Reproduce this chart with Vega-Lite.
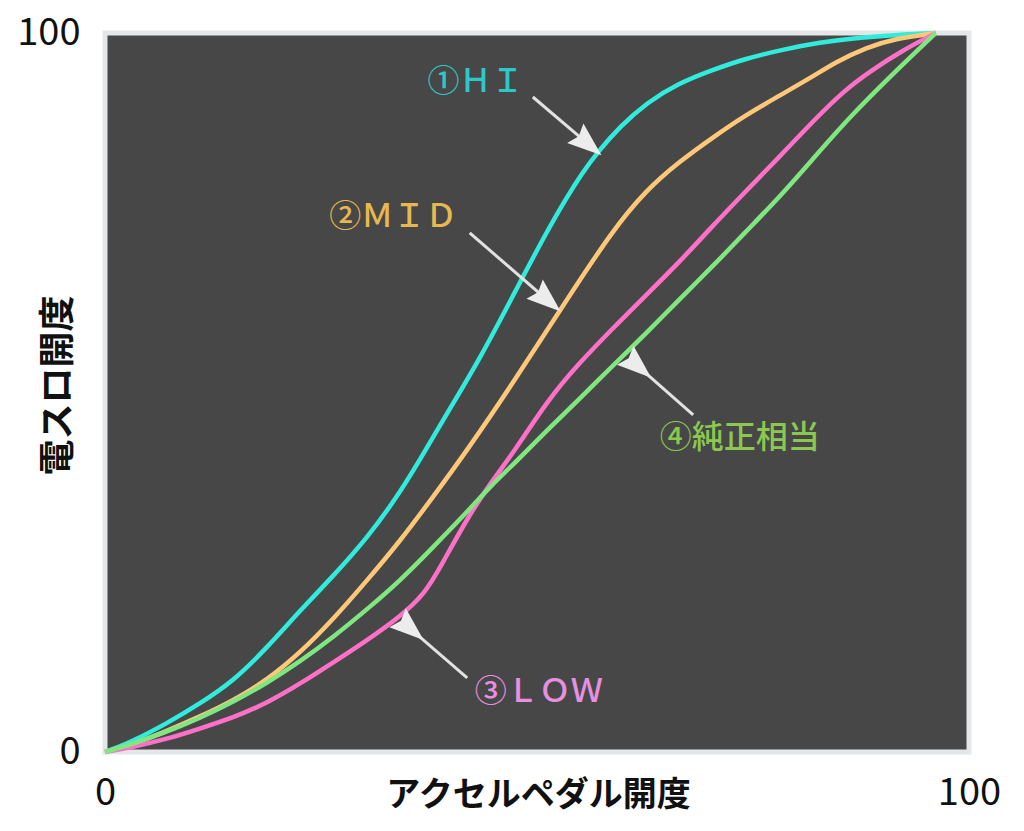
{
  "$schema": "https://vega.github.io/schema/vega-lite/v6.json",
  "autosize": "none",
  "width": 864,
  "height": 719,
  "padding": {"left": 105, "top": 33, "right": 55, "bottom": 79},
  "background": "white",
  "config": {
    "view": {"fill": "#474747", "stroke": "#e4e7ea", "strokeWidth": 5},
    "font": "Noto Sans CJK JP"
  },
  "datasets": {
    "curves": [
      {"series": "HI", "x": 0, "y": 0}, {"series": "HI", "x": 3, "y": 1.3}, {"series": "HI", "x": 7.5, "y": 4}, {"series": "HI", "x": 11.5, "y": 6.8},
      {"series": "HI", "x": 15.4, "y": 9.8}, {"series": "HI", "x": 19.5, "y": 14.5}, {"series": "HI", "x": 23.5, "y": 19.7}, {"series": "HI", "x": 27.5, "y": 24.5},
      {"series": "HI", "x": 31.5, "y": 29.7}, {"series": "HI", "x": 35, "y": 35.2}, {"series": "HI", "x": 37.9, "y": 40.6}, {"series": "HI", "x": 41, "y": 46.8},
      {"series": "HI", "x": 45.1, "y": 54.6}, {"series": "HI", "x": 49.9, "y": 65.2}, {"series": "HI", "x": 53, "y": 72}, {"series": "HI", "x": 55.6, "y": 77.2},
      {"series": "HI", "x": 57.5, "y": 80.6}, {"series": "HI", "x": 59.2, "y": 83.3}, {"series": "HI", "x": 62, "y": 87}, {"series": "HI", "x": 65.2, "y": 90.3},
      {"series": "HI", "x": 69, "y": 93}, {"series": "HI", "x": 73.2, "y": 94.9}, {"series": "HI", "x": 77, "y": 96.4}, {"series": "HI", "x": 81.2, "y": 97.6},
      {"series": "HI", "x": 86, "y": 98.7}, {"series": "HI", "x": 91, "y": 99.4}, {"series": "HI", "x": 96, "y": 99.8}, {"series": "HI", "x": 100, "y": 100},
      {"series": "MID", "x": 0, "y": 0}, {"series": "MID", "x": 3, "y": 0.9}, {"series": "MID", "x": 7, "y": 2.7}, {"series": "MID", "x": 11.4, "y": 4.9},
      {"series": "MID", "x": 15.5, "y": 7.2}, {"series": "MID", "x": 19.5, "y": 10}, {"series": "MID", "x": 23.5, "y": 13.8}, {"series": "MID", "x": 27.5, "y": 18.5},
      {"series": "MID", "x": 31.5, "y": 23.8}, {"series": "MID", "x": 35.5, "y": 29.3}, {"series": "MID", "x": 39.5, "y": 35.5}, {"series": "MID", "x": 43.5, "y": 41.8},
      {"series": "MID", "x": 49.1, "y": 51.3}, {"series": "MID", "x": 54.8, "y": 61.5}, {"series": "MID", "x": 61.1, "y": 72.6}, {"series": "MID", "x": 65.2, "y": 78.2},
      {"series": "MID", "x": 69, "y": 82}, {"series": "MID", "x": 73.2, "y": 85.5}, {"series": "MID", "x": 77, "y": 88.5}, {"series": "MID", "x": 81.2, "y": 91.3},
      {"series": "MID", "x": 85, "y": 93.8}, {"series": "MID", "x": 88, "y": 96}, {"series": "MID", "x": 91.7, "y": 98}, {"series": "MID", "x": 95, "y": 99.2},
      {"series": "MID", "x": 100, "y": 100},
      {"series": "LOW", "x": 0, "y": 0}, {"series": "LOW", "x": 3, "y": 0.6}, {"series": "LOW", "x": 7.5, "y": 1.8}, {"series": "LOW", "x": 11.5, "y": 3.3},
      {"series": "LOW", "x": 15.5, "y": 4.8}, {"series": "LOW", "x": 19.5, "y": 6.8}, {"series": "LOW", "x": 23.5, "y": 9.5}, {"series": "LOW", "x": 27.4, "y": 12.4},
      {"series": "LOW", "x": 31.5, "y": 15.5}, {"series": "LOW", "x": 35.5, "y": 18.8}, {"series": "LOW", "x": 38.5, "y": 22}, {"series": "LOW", "x": 40.5, "y": 26},
      {"series": "LOW", "x": 43.6, "y": 32.5}, {"series": "LOW", "x": 46.5, "y": 37.6}, {"series": "LOW", "x": 49.1, "y": 41.5}, {"series": "LOW", "x": 53.2, "y": 48.8},
      {"series": "LOW", "x": 57, "y": 54}, {"series": "LOW", "x": 61.1, "y": 58.9}, {"series": "LOW", "x": 65, "y": 63.4}, {"series": "LOW", "x": 69.2, "y": 68.2},
      {"series": "LOW", "x": 73, "y": 73}, {"series": "LOW", "x": 77.3, "y": 78.2}, {"series": "LOW", "x": 81.2, "y": 82.8}, {"series": "LOW", "x": 85.7, "y": 88.3},
      {"series": "LOW", "x": 89, "y": 92}, {"series": "LOW", "x": 92, "y": 94.6}, {"series": "LOW", "x": 96, "y": 97.6}, {"series": "LOW", "x": 100, "y": 100},
      {"series": "PURE", "x": 0, "y": 0}, {"series": "PURE", "x": 3, "y": 1}, {"series": "PURE", "x": 7, "y": 2.6}, {"series": "PURE", "x": 11.4, "y": 4.7},
      {"series": "PURE", "x": 15.5, "y": 7}, {"series": "PURE", "x": 19.5, "y": 9.6}, {"series": "PURE", "x": 23.5, "y": 12.6}, {"series": "PURE", "x": 27.5, "y": 16},
      {"series": "PURE", "x": 31.5, "y": 19.8}, {"series": "PURE", "x": 35.5, "y": 23.8}, {"series": "PURE", "x": 39.5, "y": 28.5}, {"series": "PURE", "x": 43.6, "y": 33.4},
      {"series": "PURE", "x": 46.5, "y": 37.1}, {"series": "PURE", "x": 49.6, "y": 40.5}, {"series": "PURE", "x": 53, "y": 44.5}, {"series": "PURE", "x": 57.2, "y": 49.2},
      {"series": "PURE", "x": 61, "y": 53.6}, {"series": "PURE", "x": 65.2, "y": 58.3}, {"series": "PURE", "x": 69, "y": 62.8}, {"series": "PURE", "x": 73.2, "y": 67.6},
      {"series": "PURE", "x": 77, "y": 72.2}, {"series": "PURE", "x": 81.2, "y": 77.2}, {"series": "PURE", "x": 85, "y": 82.2}, {"series": "PURE", "x": 89.6, "y": 88.3},
      {"series": "PURE", "x": 95, "y": 94.5}, {"series": "PURE", "x": 100, "y": 100}
    ],
    "arrows": [
      {"series": "HI", "x": 51.5, "y": 91.1, "x2": 58.1, "y2": 84.6},
      {"series": "MID", "x": 43.9, "y": 72.2, "x2": 53.2, "y2": 62.9},
      {"series": "LOW", "x": 43.6, "y": 10.3, "x2": 36.7, "y2": 17.2},
      {"series": "PURE", "x": 70.8, "y": 46.9, "x2": 64.1, "y2": 53.7}
    ],
    "labels": [
      {"series": "HI", "label": "①ＨＩ", "x": 44.6, "y": 93.2},
      {"series": "MID", "label": "②ＭＩＤ", "x": 34.7, "y": 74.4},
      {"series": "LOW", "label": "③ＬＯＷ", "x": 52.2, "y": 8.3},
      {"series": "PURE", "label": "④純正相当", "x": 76.4, "y": 43.7}
    ]
  },
  "encoding": {
    "x": {
      "field": "x", "type": "quantitative",
      "scale": {"domain": [0, 104], "nice": false},
      "axis": {
        "values": [0, 104],
        "labelExpr": "datum.value == 0 ? '0' : '100'",
        "grid": false, "ticks": false, "domain": false,
        "labelFontSize": 38, "labelColor": "#111", "labelPadding": 22, "labelFlush": false,
        "title": "アクセルペダル開度", "titleFontSize": 34, "titleFontWeight": "bold", "titleColor": "#111",
        "titleX": 433, "titleY": 43, "titleAlign": "center", "titleBaseline": "middle"
      }
    },
    "y": {
      "field": "y", "type": "quantitative",
      "scale": {"domain": [0, 100], "nice": false},
      "axis": {
        "values": [0, 100],
        "grid": false, "ticks": false, "domain": false,
        "labelFontSize": 38, "labelColor": "#111", "labelPadding": 25, "labelFlush": false,
        "title": "電スロ開度", "titleFontSize": 36, "titleFontWeight": "bold", "titleColor": "#111",
        "titleX": -47, "titleY": 352, "titleAlign": "center", "titleBaseline": "middle", "titleAngle": -90
      }
    }
  },
  "layer": [
    {
      "data": {"name": "curves"},
      "mark": {"type": "line", "interpolate": "basis", "strokeWidth": 4.5},
      "encoding": {
        "color": {
          "field": "series", "type": "nominal", "legend": null,
          "scale": {"domain": ["HI", "MID", "LOW", "PURE"], "range": ["#30ecdc", "#ffc878", "#ff70c8", "#80e680"]}
        },
        "order": {"field": "x", "type": "quantitative"}
      }
    },
    {
      "data": {"name": "arrows"},
      "mark": {"type": "rule", "color": "#e2e2e2", "strokeWidth": 3},
      "encoding": {
        "x2": {"field": "x2"},
        "y2": {"field": "y2"}
      }
    },
    {
      "data": {"name": "arrows"},
      "mark": {"type": "point", "shape": "M0,-1L0.7,0.9L0,0.65L-0.7,0.9Z", "filled": true, "size": 1300, "color": "#ececec", "opacity": 1, "strokeWidth": 0},
      "encoding": {
        "x": {"field": "x2", "type": "quantitative"},
        "y": {"field": "y2", "type": "quantitative"},
        "angle": {
          "field": "series", "type": "nominal", "legend": null,
          "scale": {"domain": ["HI", "MID", "LOW", "PURE"], "range": [130.2, 130.8, 310.9, 311.8]}
        }
      }
    },
    {
      "data": {"name": "labels"},
      "mark": {"type": "text", "fontSize": 32, "fontWeight": 500, "align": "center", "baseline": "middle"},
      "encoding": {
        "text": {"field": "label"},
        "color": {
          "field": "series", "type": "nominal", "legend": null,
          "scale": {"domain": ["HI", "MID", "LOW", "PURE"], "range": ["#2ec8c8", "#e8b850", "#e890e0", "#8cc850"]}
        }
      }
    }
  ],
  "resolve": {"scale": {"color": "independent"}}
}
